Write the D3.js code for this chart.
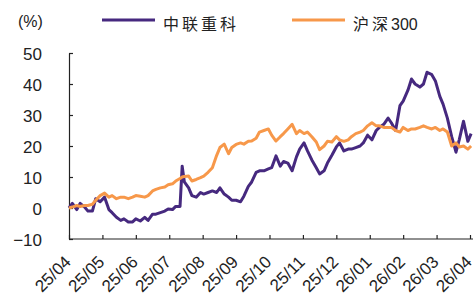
<!DOCTYPE html>
<html>
<head>
<meta charset="utf-8">
<script src="https://cdn.jsdelivr.net/npm/d3@7"></script>
<style>
  body { margin: 0; background: #fff; }
  text { font-family: "Liberation Sans", Arial, sans-serif; fill: #222; }
  .cjk { font-family: "Noto Sans CJK SC", sans-serif; }
</style>
</head>
<body>
<script>
var width = 475;
var height = 298;

var seriesNames = ["中联重科", "沪深300"];
var seriesColors = ["#46297f", "#f7984a"];
var monthLabels = ["25/04","25/05","25/06","25/07","25/08","25/09","25/10","25/11","25/12","26/01","26/02","26/03","26/04"];
var yTicks = [-10, 0, 10, 20, 30, 40, 50];

var dates = [
  "2025-04-01","2025-04-04","2025-04-08","2025-04-11","2025-04-15","2025-04-18","2025-04-22","2025-04-25","2025-04-29",
  "2025-05-03","2025-05-07","2025-05-10","2025-05-14","2025-05-18","2025-05-21","2025-05-25","2025-05-29",
  "2025-06-01","2025-06-05","2025-06-09","2025-06-12","2025-06-16","2025-06-19","2025-06-23","2025-06-27","2025-06-30",
  "2025-07-04","2025-07-07","2025-07-11","2025-07-13","2025-07-15","2025-07-19","2025-07-22","2025-07-26","2025-07-30",
  "2025-08-02","2025-08-06","2025-08-10","2025-08-14","2025-08-17","2025-08-21","2025-08-25","2025-08-28",
  "2025-09-01","2025-09-05","2025-09-08","2025-09-12","2025-09-15","2025-09-19","2025-09-22","2025-09-26","2025-09-30",
  "2025-10-03","2025-10-07","2025-10-11","2025-10-14","2025-10-18","2025-10-22","2025-10-26","2025-10-29",
  "2025-11-02","2025-11-05","2025-11-09","2025-11-13","2025-11-16","2025-11-20","2025-11-23","2025-11-27",
  "2025-12-01","2025-12-04","2025-12-08","2025-12-12","2025-12-15","2025-12-19","2025-12-23","2025-12-26","2025-12-30",
  "2026-01-03","2026-01-07","2026-01-10","2026-01-14","2026-01-18","2026-01-21","2026-01-25","2026-01-29",
  "2026-02-01","2026-02-05","2026-02-08","2026-02-11","2026-02-15","2026-02-18","2026-02-21","2026-02-25","2026-02-28",
  "2026-03-04","2026-03-07","2026-03-11","2026-03-15","2026-03-19","2026-03-22","2026-03-26","2026-03-30",
  "2026-04-02"
];

// 中联重科 cumulative return (%)
var zoomlion = [
  0, 1.5, -0.5, 1.5, 0.3, -1, -1, 3, 2,
  3.5, -0.5, -1.5, -3, -4, -3.5, -4.5, -4.5,
  -3.5, -4.2, -3, -4, -2, -2, -1.5, -1, -0.3,
  -0.5, 0.5, 0.5, 13.5, 8.4, 6.5, 4, 3.5, 5,
  4.5, 5, 5.5, 5, 6.5, 4.5, 3.5, 2.5,
  2.5, 2, 3.8, 7, 8.4, 11.5, 12, 12, 12.6,
  13, 16.8, 13.5, 15, 14.5, 12, 16.5, 19,
  21, 18.5, 15.5, 13, 11, 12, 14.5, 17,
  19.7, 21, 18.4, 19, 19, 19.5, 20, 21, 23.5,
  22, 25, 26, 27, 29, 27.5, 25, 33,
  34.5, 38, 41.6, 40, 39, 40, 43.8, 43, 41,
  36, 33.5, 29, 23, 18, 22, 28, 21.5,
  24
];

// 沪深300 cumulative return (%)
var csi300 = [
  0, 0.3, 0.8, 0.5, 0.8, 0.8, 1.2, 2.5, 4,
  4.8, 3.5, 4, 3, 3.5, 3.5, 3, 3.5,
  4, 3.8, 3.5, 4, 5.5, 6, 6.5, 6.8, 7.5,
  7.8, 8.7, 9.5, 10, 10.2, 10.3, 8.7, 9.2, 9.8,
  10.3, 11.5, 13, 17, 19.5, 20.6, 17.5, 19.5,
  20.5, 21, 20.6, 21.5, 21.6, 22.5, 24.5, 25, 25.5,
  23.5, 21.6, 23, 24, 25.5, 27, 24, 25,
  24, 24.5, 23, 21.3, 18.8, 20, 21.5, 21.3,
  23, 22, 21.5, 22, 23, 24, 24.5, 25, 26.5,
  27.5, 26.5, 26.5, 26, 26, 26, 25, 24.5,
  26, 25, 25.5, 25.5, 26, 26.5, 26, 25.5, 26,
  25, 25.5, 24.5, 20, 21, 19.7, 20, 19,
  20
];

var parse = d3.timeParse("%Y-%m-%d");
// months since 2025-04, ticks sit evenly per month
function monthPos(s) {
  var d = parse(s);
  var m0 = d3.timeMonth.floor(d);
  var days = d3.timeDay.count(m0, d3.timeMonth.offset(m0, 1));
  return (d.getFullYear() - 2025) * 12 + d.getMonth() - 3 + (d.getDate() - 1) / days;
}

var svg = d3.select("body").append("svg")
  .attr("width", width)
  .attr("height", height);

var x = d3.scaleLinear().domain([0, 12]).range([69, 470]);
var y = d3.scaleLinear().domain([-10, 50]).range([239, 53]);

// axes
var yAxis = svg.append("g")
  .attr("transform", "translate(69,0)")
  .call(d3.axisLeft(y).tickValues(yTicks).tickSize(-4).tickPadding(27).tickSizeOuter(0));
yAxis.selectAll("text").style("font-size", "17px").attr("dy", "0.36em");

var xAxis = svg.append("g")
  .attr("transform", "translate(0,239)")
  .call(d3.axisBottom(x).tickValues(d3.range(monthLabels.length)).tickSize(-4).tickSizeOuter(0).tickFormat(""));
xAxis.select(".domain").attr("d", "M69,0H473");
svg.selectAll(".domain, .tick line").attr("stroke", "#222").attr("stroke-width", 1.2);

svg.append("g").selectAll("text")
  .data(monthLabels)
  .enter()
  .append("text")
  .attr("text-anchor", "end")
  .style("font-size", "17px")
  .attr("transform", function(d, i) { return "translate(" + (x(i) + 3) + ",263) rotate(-45)"; })
  .text(function(d) { return d; });

// lines
var allSeries = [zoomlion, csi300];
var line = d3.line()
  .x(function(d) { return x(d.m); })
  .y(function(d) { return y(d.v); });

allSeries.forEach(function(vals, k) {
  var pts = dates.map(function(s, i) { return { m: monthPos(s), v: vals[i] }; });
  svg.append("path")
    .datum(pts)
    .attr("fill", "none")
    .attr("stroke", seriesColors[k])
    .attr("stroke-width", 3)
    .attr("stroke-linejoin", "round")
    .attr("d", line);
});

// legend
svg.append("text").attr("x", 18).attr("y", 27).style("font-size", "16px").text("(%)");

var legendX = [102, 292];
seriesNames.forEach(function(name, k) {
  svg.append("line")
    .attr("x1", legendX[k]).attr("x2", legendX[k] + 53)
    .attr("y1", 20).attr("y2", 20)
    .attr("stroke", seriesColors[k])
    .attr("stroke-width", 3);
  var t = svg.append("text")
    .attr("x", legendX[k] + 61)
    .attr("y", 30)
    .style("font-size", "16px");
  var cjk = name.replace(/[0-9]/g, "");
  var num = name.replace(/[^0-9]/g, "");
  t.append("tspan").attr("class", "cjk").style("letter-spacing", "3px").text(cjk);
  if (num) t.append("tspan").text(num);
});
</script>
</body>
</html>
